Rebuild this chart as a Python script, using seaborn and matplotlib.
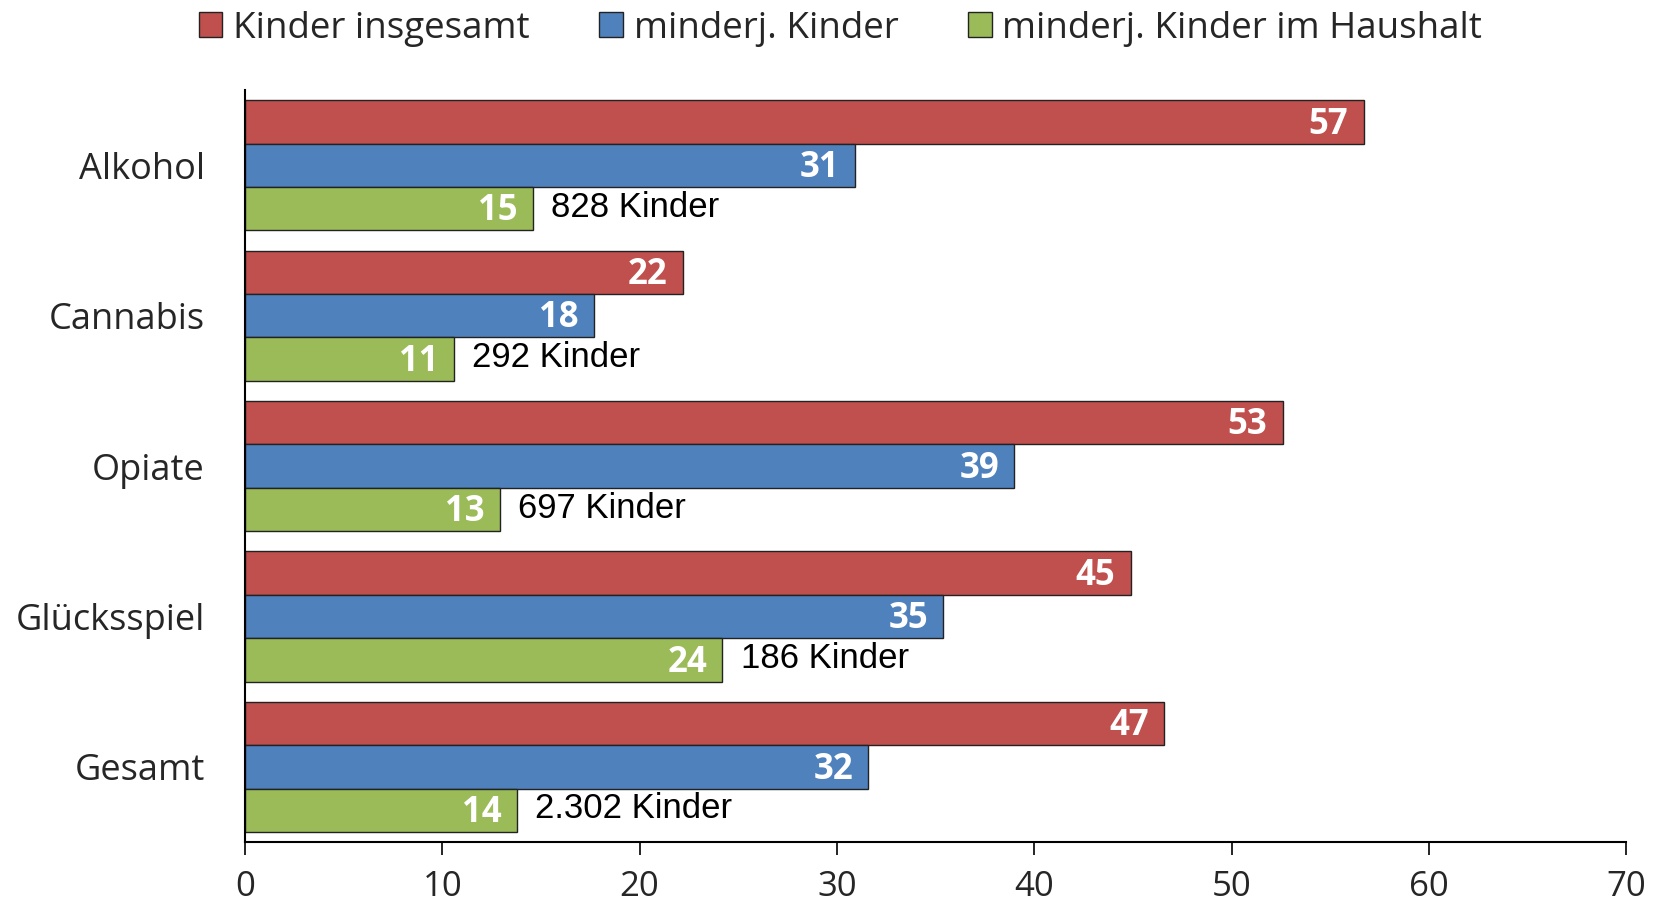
import pandas as pd
import seaborn as sns
import matplotlib.pyplot as plt

substanzen = ["Alkohol", "Cannabis", "Opiate", "Glücksspiel", "Gesamt"]
kinder_insgesamt = [56.7, 22.2, 52.6, 44.9, 46.6]
minderj_kinder = [30.9, 17.7, 39.0, 35.4, 31.6]
minderj_haushalt = [14.6, 10.6, 12.9, 24.2, 13.8]
anzahl_kinder = ["828 Kinder", "292 Kinder", "697 Kinder", "186 Kinder", "2.302 Kinder"]
serien = ["Kinder insgesamt", "minderj. Kinder", "minderj. Kinder im Haushalt"]
farben = ["#C0504D", "#4F81BD", "#9BBB59"]

rows = []
for i, s in enumerate(substanzen):
    for name, vals in zip(serien, [kinder_insgesamt, minderj_kinder, minderj_haushalt]):
        rows.append({"Substanz": s, "Serie": name, "Wert": vals[i]})
df = pd.DataFrame(rows)

sns.set_style("white")
plt.rcParams["font.family"] = ["Open Sans", "DejaVu Sans"]

fig = plt.figure(figsize=(16.61, 9.05), dpi=100)
ax = fig.add_axes([0.1475, 0.0696, 0.8315, 0.8309])

sns.barplot(data=df, y="Substanz", x="Wert", hue="Serie", hue_order=serien,
            palette=farben, orient="h", width=0.866, edgecolor="#222222",
            linewidth=1.0, saturation=1, legend=True, ax=ax)

ax.set_xlim(0, 70)
ax.set_ylim(4.5, -0.5)
ax.set_xticks(range(0, 71, 10))
ax.set_xlabel("")
ax.set_ylabel("")
ax.tick_params(axis="x", bottom=True, direction="out", length=9, width=1.2,
               color="black", labelsize=25, pad=11)
ax.tick_params(axis="y", left=False, length=0, labelsize=26, pad=29)
for side in ["top", "right"]:
    ax.spines[side].set_visible(False)
for side in ["left", "bottom"]:
    ax.spines[side].set_color("black")
    ax.spines[side].set_linewidth(1.5)

# Werte in die Balken schreiben
for cont in ax.containers:
    for bar, v in zip(cont, cont.datavalues):
        ax.annotate("%.0f" % v, (bar.get_width(), bar.get_y() + bar.get_height() / 2),
                    xytext=(-11, -2), textcoords="offset points", ha="right",
                    va="center", color="white", fontsize=25, fontweight="bold")

# Anzahl Kinder neben den grünen Balken
gruen = ax.containers[2]
for bar, txt in zip(gruen, anzahl_kinder):
    ax.annotate(txt, (bar.get_width(), bar.get_y() + bar.get_height() / 2),
                xytext=(13, 1), textcoords="offset points", va="center",
                ha="left", fontsize=25, color="black",
                family=["Liberation Sans", "DejaVu Sans"])

handles, labs = ax.get_legend_handles_labels()
ax.legend_.remove()
fig.legend(handles, labs, loc="upper center", bbox_to_anchor=(0.506, 1.025), ncol=3,
           frameon=False, fontsize=26.5, handlelength=0.65, handleheight=0.65,
           columnspacing=1.9, handletextpad=0.28)

fig.savefig("out.png", dpi=100)
